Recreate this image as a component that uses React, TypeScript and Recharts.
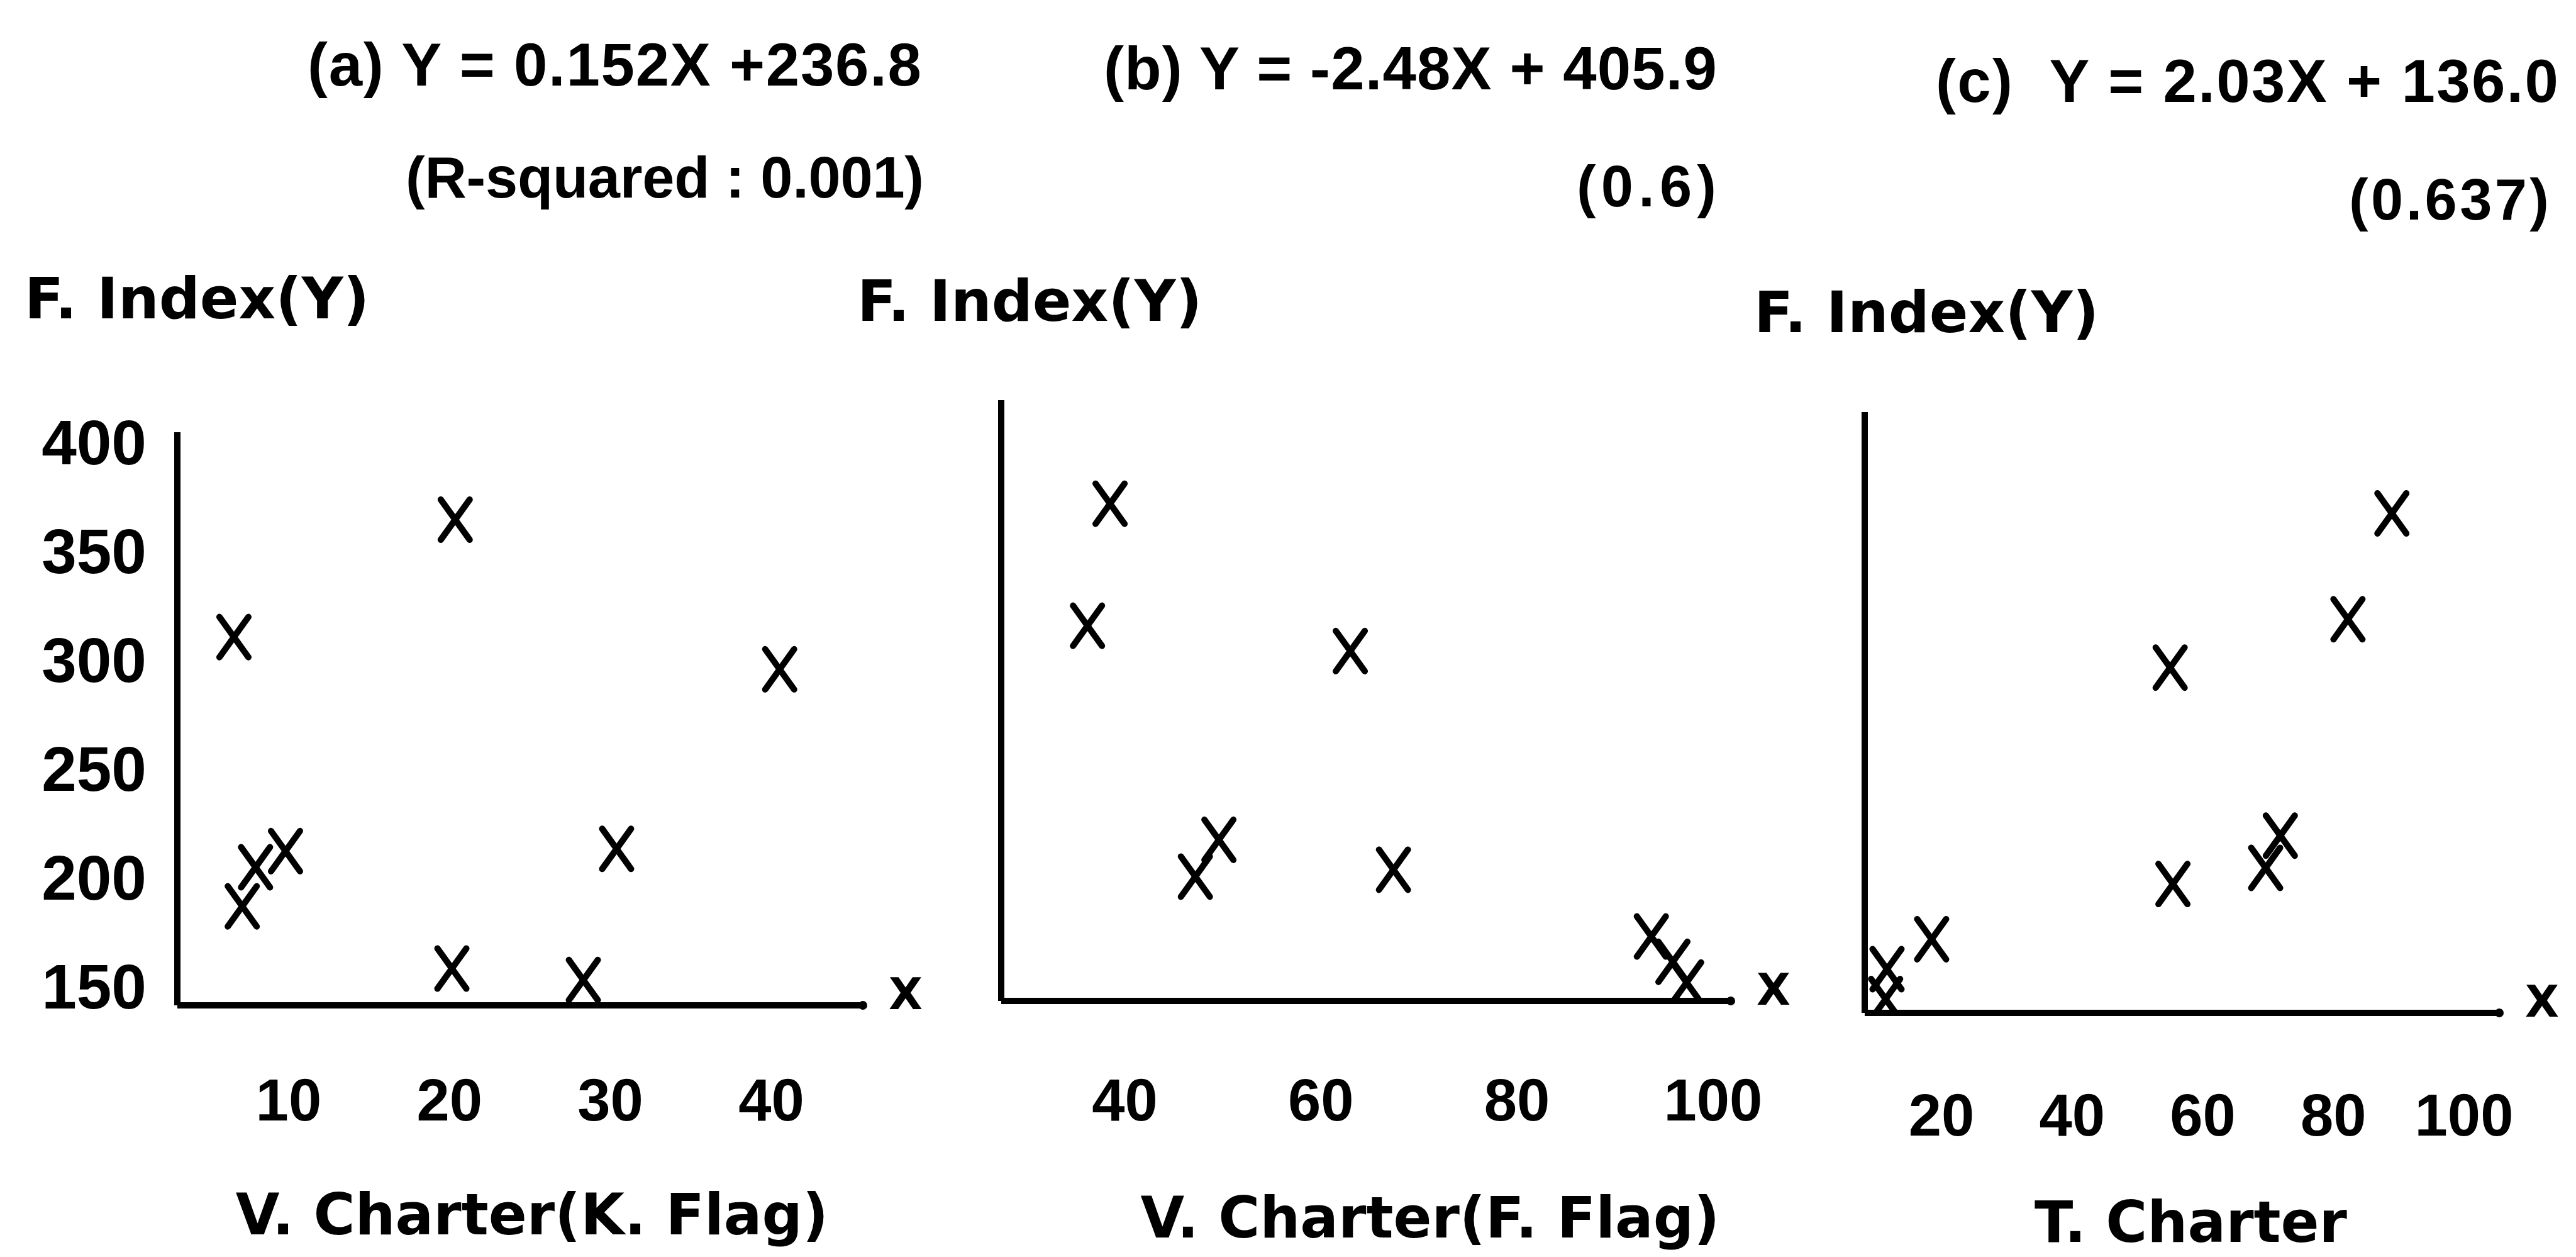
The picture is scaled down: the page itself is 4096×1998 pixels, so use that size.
import { Label, ReferenceDot, Scatter, ScatterChart, XAxis, YAxis } from "recharts";

// (a) F. Index against V. Charter (K. Flag)
const kFlagCharter = [7.7, 21, 40.5, 8.2, 9.0, 10.8, 30.7, 20.8, 28.7];
const kFlagIndex = [310, 361, 296, 193, 210, 217, 218, 166, 161];

// (b) F. Index against V. Charter (F. Flag)
const fFlagCharter = [38.5, 36.2, 63, 47.2, 49.6, 67.4, 93.7, 95.9, 97.3];
const fFlagIndex = [366, 313, 302, 204, 220, 207, 178, 167, 158];

// (c) F. Index against T. Charter
const tCharter = [84.6, 78.3, 52.8, 53.2, 66.5, 68.6, 18.6, 12.2, 12.0];
const tCharterIndex = [367, 321, 300, 206, 213, 227, 182, 169, 156];

const indexTicks = [150, 200, 250, 300, 350, 400];
const kFlagTicks = [10, 20, 30, 40];
const fFlagTicks = [40, 60, 80, 100];
const tCharterTicks = [20, 40, 60, 80, 100];

const equations = ["(a) Y = 0.152X +236.8", "(b) Y = -2.48X + 405.9", "(c)  Y = 2.03X + 136.0"];
const fits = ["(R-squared : 0.001)", "(0.6)", "(0.637)"];
const xTitles = ["V. Charter(K. Flag)", "V. Charter(F. Flag)", "T. Charter"];
const yTitle = "F. Index(Y)";
const axisEnd = "X";

const INK = "#000";
const TITLE_FONT = '"DejaVu Sans", sans-serif';
const TICK_FONT = '"Liberation Sans", Arial, sans-serif';

const PAD_L = 300;
const PAD_T = 320;
const PAD_R = 150;
const PAD_B = 420;

function XMark(props: any) {
  const { cx, cy } = props;
  if (cx == null || cy == null) return null;
  return (
    <g stroke={INK} strokeWidth={10} strokeLinecap="round">
      <line x1={cx - 23} y1={cy - 32} x2={cx + 23} y2={cy + 32} />
      <line x1={cx + 23} y1={cy - 32} x2={cx - 23} y2={cy + 32} />
    </g>
  );
}

function endLabel(props: any) {
  const vb = props.viewBox;
  const cx = vb.x + vb.width / 2;
  const cy = vb.y + vb.height / 2;
  return (
    <text x={cx + 68} y={cy + 6} textAnchor="middle" fill={INK} fontSize={70} fontWeight={700} fontFamily={TITLE_FONT}>
      {axisEnd}
    </text>
  );
}

interface PanelProps {
  xs: number[];
  ys: number[];
  plotLeft: number;
  plotTop: number;
  plotW: number;
  plotH: number;
  xDomain: [number, number];
  yTop: number;
  xTicks: number[];
  showYTicks: boolean;
  xTitle: string;
  titleShift: number;
  titleDrop: number;
  tickDrop: number;
  yTitleLeft: number;
  yTitleUp: number;
  // the printed labels drift a little from the tick marks
  xDrift: [number, number];
  yDrift: number;
}

function Panel(p: PanelProps) {
  const data = p.xs.map((x, i) => ({ x, y: p.ys[i] }));

  return (
    <div style={{ position: "absolute", left: p.plotLeft - PAD_L, top: p.plotTop - PAD_T }}>
      <ScatterChart
        width={p.plotW + PAD_L + PAD_R}
        height={p.plotH + PAD_T + PAD_B}
        margin={{ top: PAD_T, right: PAD_R, bottom: 0, left: 0 }}
      >
        <XAxis
          type="number"
          dataKey="x"
          domain={p.xDomain}
          ticks={p.xTicks}
          interval={0}
          allowDataOverflow
          height={PAD_B}
          axisLine={{ stroke: INK, strokeWidth: 10 }}
          tickLine={false}
          tickSize={0}
          tickMargin={0}
          tick={(t: any) => (
            <text
              x={t.x + (t.payload.value - p.xDrift[0]) * p.xDrift[1]}
              y={t.y + p.tickDrop}
              textAnchor="middle"
              fill={INK}
              fontSize={94}
              fontWeight={700}
              fontFamily={TICK_FONT}
            >
              {t.payload.value}
            </text>
          )}
        >
          <Label
            content={(l: any) => {
              const vb = l.viewBox;
              return (
                <text
                  x={vb.x + vb.width / 2 + p.titleShift}
                  y={vb.y + p.titleDrop}
                  textAnchor="middle"
                  fill={INK}
                  fontSize={90}
                  fontWeight={700}
                  fontFamily={TITLE_FONT}
                >
                  {p.xTitle}
                </text>
              );
            }}
          />
        </XAxis>
        <YAxis
          type="number"
          dataKey="y"
          domain={[150, p.yTop]}
          ticks={indexTicks}
          interval={0}
          allowDataOverflow
          width={PAD_L}
          axisLine={{ stroke: INK, strokeWidth: 10 }}
          tickLine={false}
          tickSize={0}
          tickMargin={0}
          tick={
            p.showYTicks
              ? (t: any) => (
                  <text
                    x={t.x - 49}
                    y={t.y + 5 + (t.payload.value - 150) * p.yDrift}
                    textAnchor="end"
                    fill={INK}
                    fontSize={100}
                    fontWeight={700}
                    fontFamily={TICK_FONT}
                  >
                    {t.payload.value}
                  </text>
                )
              : false
          }
        >
          <Label
            content={(l: any) => {
              const vb = l.viewBox;
              return (
                <text
                  x={vb.x + vb.width - p.yTitleLeft}
                  y={vb.y - p.yTitleUp}
                  fill={INK}
                  fontSize={91}
                  fontWeight={700}
                  fontFamily={TITLE_FONT}
                >
                  {yTitle}
                </text>
              );
            }}
          />
        </YAxis>
        <Scatter data={data} shape={XMark} isAnimationActive={false} />
        <ReferenceDot x={p.xDomain[1]} y={150} r={7} fill={INK} stroke="none" ifOverflow="visible" label={endLabel} />
      </ScatterChart>
    </div>
  );
}

export default function App() {
  const headerRows = [
    { text: equations[0], x: 489, y: 136, size: 96, len: 976 },
    { text: equations[1], x: 1755, y: 142, size: 96, len: 975 },
    { text: equations[2], x: 3078, y: 162, size: 96, len: 990 },
    { text: fits[0], x: 645, y: 314, size: 92, len: 824 },
    { text: fits[1], x: 2507, y: 328, size: 92, len: 222 },
    { text: fits[2], x: 3735, y: 349, size: 92, len: 318 },
  ];

  return (
    <div
      style={{
        position: "absolute",
        left: 0,
        top: 0,
        width: 4096,
        height: 1998,
        overflow: "hidden",
        background: "#fff",
      }}
    >
      <svg width={4096} height={1998} style={{ position: "absolute", left: 0, top: 0 }}>
        {headerRows.map((h) => (
          <text
            key={h.text}
            x={h.x}
            y={h.y}
            fill={INK}
            fontSize={h.size}
            fontWeight={700}
            fontFamily={TICK_FONT}
            textLength={h.len}
            lengthAdjust="spacing"
            style={{ whiteSpace: "pre" }}
          >
            {h.text}
          </text>
        ))}
      </svg>

      <Panel
        xs={kFlagCharter}
        ys={kFlagIndex}
        plotLeft={282}
        plotTop={687}
        plotW={1090}
        plotH={911}
        xDomain={[4.3, 45.5]}
        yTop={399}
        xTicks={kFlagTicks}
        showYTicks
        xTitle={xTitles[0]}
        titleShift={19}
        titleDrop={364}
        tickDrop={183}
        yTitleLeft={243}
        yTitleUp={181}
        xDrift={[40, -0.87]}
        yDrift={0.2}
      />
      <Panel
        xs={fFlagCharter}
        ys={fFlagIndex}
        plotLeft={1592}
        plotTop={636}
        plotW={1160}
        plotH={955}
        xDomain={[27.4, 101.8]}
        yTop={411}
        xTicks={fFlagTicks}
        showYTicks={false}
        xTitle={xTitles[1]}
        titleShift={102}
        titleDrop={376}
        tickDrop={190}
        yTitleLeft={229}
        yTitleUp={126}
        xDrift={[40, 0]}
        yDrift={0}
      />
      <Panel
        xs={tCharter}
        ys={tCharterIndex}
        plotLeft={2965}
        plotTop={655}
        plotW={1009}
        plotH={955}
        xDomain={[9, 100]}
        yTop={411}
        xTicks={tCharterTicks}
        showYTicks={false}
        xTitle={xTitles[2]}
        titleShift={14}
        titleDrop={364}
        tickDrop={195}
        yTitleLeft={176}
        yTitleUp={127}
        xDrift={[20, -0.7]}
        yDrift={0}
      />
    </div>
  );
}
